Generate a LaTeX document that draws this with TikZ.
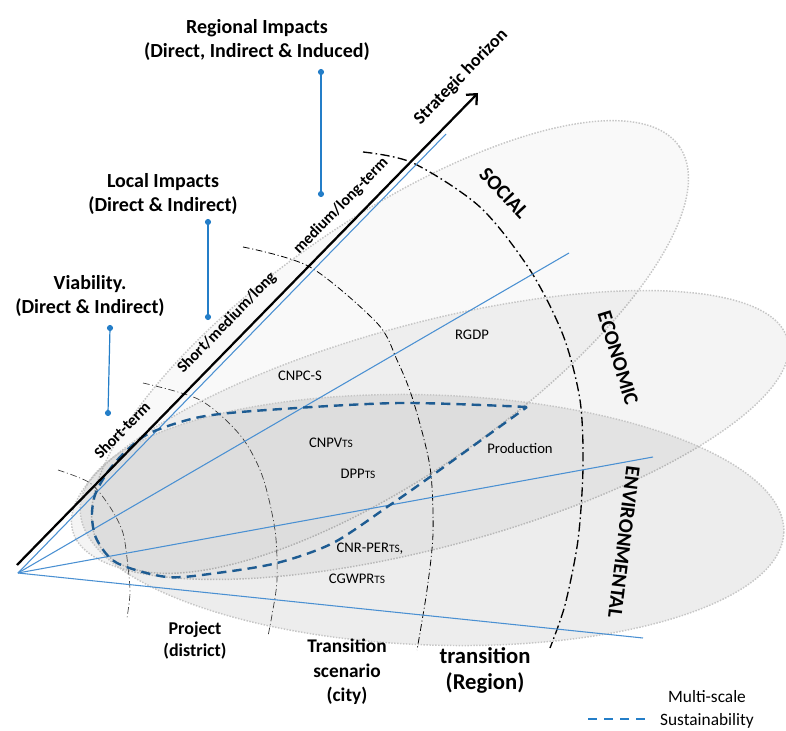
\documentclass[tikz,border=0pt]{standalone}
\usepackage{fontspec}
\setmainfont{Carlito}
\usetikzlibrary{arrows.meta}

\definecolor{rayblue}{RGB}{74,144,210}
\definecolor{pinblue}{RGB}{36,126,200}
\definecolor{dashblue}{RGB}{30,92,146}

\newcommand{\scen}{{\fontsize{8.5}{10}\selectfont TS}}

\tikzset{every picture/.style={line width=0.75pt}}
\tikzset{
	zone/.style={draw=gray!45, line width=1.1pt, dash pattern=on 1.1pt off 1.1pt, fill=black},
	ray/.style={rayblue, line width=0.8pt},
	axisline/.style={line width=1.7pt, -{Straight Barb[length=6pt,width=11pt]}},
	pinline/.style={pinblue, line width=0.9pt},
	pindot/.style={pinblue, fill=pinblue},
	scalearc/.style={dash pattern=on 5pt off 2pt on 0.8pt off 2pt, line width=0.5pt},
	bigarc/.style={dash pattern=on 7pt off 2.5pt on 1.2pt off 2.5pt, line width=1pt},
	multiscale/.style={dashblue, line width=1.8pt, dash pattern=on 7pt off 4.5pt},
	title/.style={font=\fontsize{15}{18}\selectfont\bfseries, align=center, inner sep=0pt},
	axislabel/.style={font=\fontsize{12}{14}\selectfont\bfseries, rotate=45.7, inner sep=0pt},
	zonelabel/.style={font=\fontsize{15.5}{18}\selectfont\bfseries, inner sep=0pt},
	inlabel/.style={font=\fontsize{11}{13}\selectfont, inner sep=0pt},
	scalelabel/.style={font=\bfseries, align=center, inner sep=0pt}
}

\begin{document}
\begin{tikzpicture}[x=0.75pt,y=0.75pt,yscale=-1,xscale=1]
	\useasboundingbox (0,0) rectangle (786,731);

	%Shape: Ellipse SOCIAL
	\draw [zone, fill opacity=0.025, rotate around={-34.7:(390,347)}] (390,347) ellipse [x radius=352, y radius=128];
	%Shape: Ellipse ECONOMIC
	\draw [zone, fill opacity=0.045, rotate around={-15:(430,435)}] (430,435) ellipse [x radius=370, y radius=112];
	%Shape: Ellipse ENVIRONMENTAL
	\draw [zone, fill opacity=0.07, rotate around={2:(432,520)}] (432,520) ellipse [x radius=352, y radius=125];

	% scale arcs
	\draw [scalearc, black!75] plot [smooth] coordinates {(58,470) (90,483) (110,507) (123,533) (128,567) (130,593) (127,618)};
	\draw [scalearc, black!80] plot [smooth] coordinates {(143,383) (200,400) (240,435) (262,475) (275,530) (277,580) (272,615) (268,636)};
	\draw [scalearc, black, line width=0.6pt] plot [smooth] coordinates {(243,247) (310,267) (377,323) (397,360) (413,400) (430,467) (433,533) (427,590) (417,650)};
	\draw [bigarc] plot [smooth] coordinates {(363,152) (413,163) (480,207) (530,270) (563,335) (580,400) (583,467) (578,540) (565,605) (550,648)};

	% origin and rays
	\coordinate (O) at (18,573);
	\coordinate (r1) at (446,134);
	\coordinate (r2) at (569,253);
	\coordinate (r3) at (653,457);
	\coordinate (r4) at (643,638);
	\foreach \r in {r1,r2,r3,r4}
		\draw [ray] (O) -- (\r);

	%Curve Lines: multi-scale sustainability
	\draw [multiscale] plot [smooth] coordinates {(527,407) (400,403) (267,410) (200,417) (150,433) (125,452) (107,473) (95,495) (92,517) (97,540) (117,563) (167,577) (217,573) (277,563) (333,543) (390,505) (430,477) (527,407)};

	% Strategic horizon axis
	\coordinate (ax0) at (17,565);
	\coordinate (ax1) at (478,93);
	\draw [axisline] (ax0) -- (ax1);

	% Text Node
	\node [axislabel] (shortterm) at (122,430) {Short-term};
	% Text Node
	\node [axislabel] (shortlong) at (227,323) {Short/medium/long};
	% Text Node
	\node [axislabel] (mediumlong) at (341,206) {medium/long-term};
	% Text Node
	\node [axislabel, font=\fontsize{13.5}{16}\selectfont\bfseries] (horizon) at (461,77) {Strategic horizon};

	% impact titles and pins
	\node [title] (regional) at (257,40) {Regional Impacts\\(Direct, Indirect \& Induced)};
	\node [title] (local) at (163,194) {Local Impacts\\(Direct \& Indirect)};
	\node [title] (viability) at (90,296) {Viability.\\(Direct \& Indirect)};
	\coordinate (p1a) at (321,72);
	\coordinate (p1b) at (321,194);
	\coordinate (p2a) at (208,222);
	\coordinate (p2b) at (208,317);
	\coordinate (p3a) at (110,328);
	\coordinate (p3b) at (108,413);
	\draw [pinline] (p1a) -- (p1b);
	\draw [pinline] (p2a) -- (p2b);
	\draw [pinline] (p3a) -- (p3b);
	\foreach \p in {p1a,p1b,p2a,p2b,p3a,p3b}
		\fill [pindot] (\p) circle (2.3pt);

	% zone labels
	\node [zonelabel, rotate=-47] (social) at (504,193) {SOCIAL};
	\node [zonelabel, rotate=-73] (economic) at (618,358) {ECONOMIC};
	\node [zonelabel, rotate=-97] (environmental) at (624,542) {ENVIRONMENTAL};

	% indicators
	\node [inlabel] (rgdp) at (472,335) {RGDP};
	\node [inlabel] (cnpcs) at (300,376) {CNPC-S};
	\node [inlabel] (cnpv) at (331,443) {CNPV\scen};
	\node [inlabel] (dpp) at (358,474) {DPP\scen};
	\node [inlabel] (production) at (520,448) {Production};
	\node [inlabel] (cnrper) at (370,549) {CNR-PER\scen,};
	\node [inlabel] (cgwpr) at (357,579) {CGWPR\scen};

	% scale labels
	\node [scalelabel, font=\fontsize{13.5}{16.5}\selectfont\bfseries] (project) at (195,641) {Project\\(district)};
	\node [scalelabel, font=\fontsize{14.5}{18.5}\selectfont\bfseries] (city) at (347,672) {Transition\\scenario\\(city)};
	\node [scalelabel, font=\fontsize{17}{19.5}\selectfont\bfseries] (region) at (485,670) {transition\\(Region)};

	% legend
	\coordinate (lg0) at (588,719);
	\coordinate (lg1) at (650,719);
	\draw [pinblue, line width=2pt, dash pattern=on 7pt off 5pt] (lg0) -- (lg1);
	\node [font=\fontsize{13}{17}\selectfont, align=center, inner sep=0pt, anchor=north] (legend) at (707,690) {Multi-scale\\Sustainability};

\end{tikzpicture}
\end{document}
